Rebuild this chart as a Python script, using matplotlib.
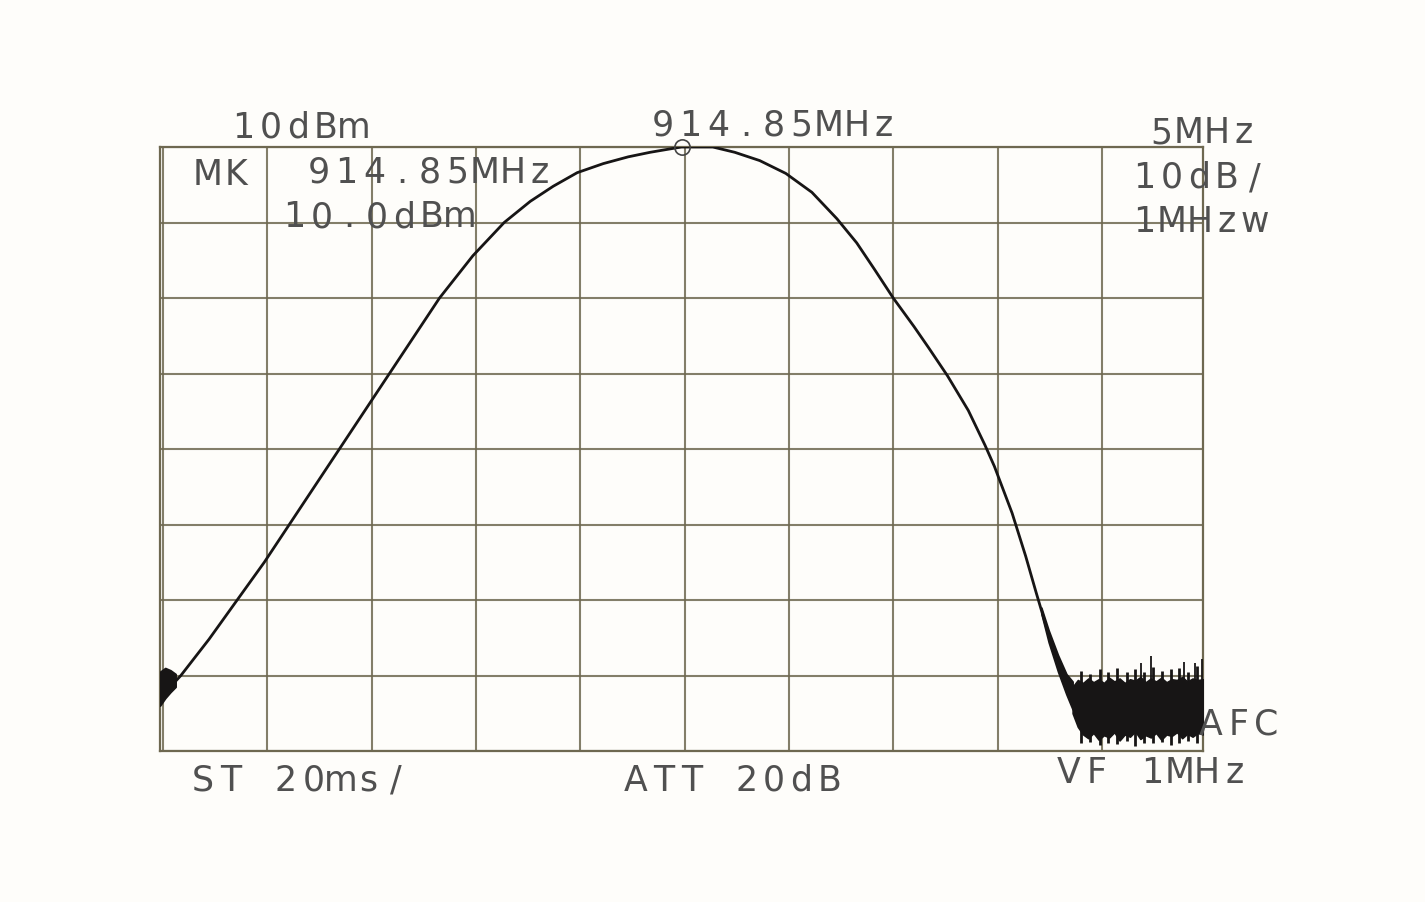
import numpy as np
import matplotlib.pyplot as plt
from matplotlib.ticker import MultipleLocator

# Spectrum analyser settings
center_mhz = 914.85
span_per_div = 5.0
ref_level = 10.0
db_per_div = 10.0

# Main trace, MHz vs dBm
trace_mhz = [889.85, 890.85, 892.2, 893.55, 894.85, 896.05, 898.45, 899.65, 900.85,
             902.05, 903.25, 904.85, 906.35, 907.6, 908.7, 909.85, 911.1,
             912.3, 913.35, 914.2, 914.85, 915.6, 916.35, 917.4, 918.6,
             919.85, 921.1, 922.3, 923.25, 924.1, 925.0, 926.0, 926.7,
             927.6, 928.6, 929.4, 929.85, 930.7, 931.35, 931.85, 932.45,
             933.15, 933.6]
trace_dbm = [-63.0, -60.0, -55.2, -50.0, -45.0, -40.0, -30.0, -25.0, -20.0,
             -15.0, -10.0, -4.4, 0.0, 2.8, 4.8, 6.6, 7.8,
             8.7, 9.3, 9.7, 10.0, 10.0, 10.0, 9.3, 8.2,
             6.5, 4.0, 0.5, -2.7, -6.2, -10.0, -13.8, -16.6,
             -20.3, -24.9, -29.5, -32.3, -38.5, -44.2, -49.0, -54.6,
             -60.0, -63.0]

# noisy blob at the left edge
blob_mhz = [889.85, 890.1, 890.35, 890.6]
blob_hi = [-59.5, -59.0, -59.3, -59.8]
blob_lo = [-64.0, -63.0, -62.2, -61.5]

# thickened falling edge just before the noise floor
edge_mhz = [932.1, 932.45, 932.9, 933.3, 933.6]
edge_hi = [-51.0, -54.0, -57.3, -59.8, -60.8]
edge_lo = [-51.8, -55.6, -59.5, -62.5, -64.5]

# noise floor band on the right
noise_mhz = [933.6, 933.85, 934.1, 934.35, 934.6, 934.85, 935.1, 935.35,
             935.6, 935.85, 936.1, 936.35, 936.6, 936.85, 937.1, 937.35,
             937.6, 937.85, 938.1, 938.35, 938.6, 938.85, 939.1, 939.35,
             939.6, 939.85]
noise_hi = [-61.5, -60.6, -61.0, -60.4, -60.9, -60.5, -61.0, -60.3,
            -60.8, -60.4, -61.0, -60.5, -60.7, -60.2, -60.9, -60.4,
            -60.8, -60.3, -60.9, -60.5, -60.6, -60.2, -60.8, -60.4,
            -60.6, -60.5]
noise_lo = [-65.0, -66.8, -67.8, -68.3, -67.6, -68.5, -67.9, -68.2,
            -67.5, -68.6, -67.8, -68.1, -67.4, -68.4, -67.9, -68.2,
            -67.6, -68.5, -67.8, -68.0, -67.5, -68.3, -67.7, -68.1,
            -67.6, -67.8]
# short teeth on top and bottom of the band
teeth_mhz = [934.0, 934.45, 934.9, 935.3, 935.75, 936.2, 936.6, 937.0,
             937.45, 937.9, 938.3, 938.7, 939.15, 939.55]
teeth_hi = [-59.4, -59.8, -59.2, -59.6, -59.0, -59.5, -59.1, -59.6,
            -58.9, -59.4, -59.2, -59.0, -59.5, -58.8]
teeth_lo = [-69.0, -68.8, -69.2, -68.9, -69.1, -68.7, -69.3, -68.9,
            -69.0, -68.8, -69.2, -68.9, -68.7, -69.0]
spike_mhz = [936.9, 937.35, 938.95, 939.45, 939.8]
spike_dbm = [-58.3, -57.4, -58.2, -58.4, -57.8]

lo_mhz = center_mhz - 5 * span_per_div
hi_mhz = center_mhz + 5 * span_per_div
bottom_dbm = ref_level - 8 * db_per_div

W, H = 1425, 903
fig = plt.figure(figsize=(W / 100, H / 100), dpi=100)
fig.patch.set_facecolor('#fefdfa')

ax = fig.add_axes([160 / W, 1 - 752 / H, 1043 / W, 604 / H])
ax.set_facecolor('#fefdfa')
ax.set_xlim(lo_mhz, hi_mhz)
ax.set_ylim(bottom_dbm, ref_level)
ax.xaxis.set_major_locator(MultipleLocator(span_per_div))
ax.yaxis.set_major_locator(MultipleLocator(db_per_div))
grid_col = '#6e6850'
ax.grid(True, color=grid_col, linewidth=1.5, alpha=0.85)
ax.tick_params(length=0, labelbottom=False, labelleft=False)
for s in ax.spines.values():
    s.set_color(grid_col)
    s.set_linewidth(1.6)

ink = '#171515'
ax.plot(trace_mhz, trace_dbm, color=ink, linewidth=2.0, zorder=3,
        solid_joinstyle='round')
ax.fill_between(blob_mhz, blob_lo, blob_hi, color=ink, linewidth=1.2, zorder=3)
ax.fill_between(edge_mhz, edge_lo, edge_hi, color=ink, linewidth=1.2, zorder=3)
ax.fill_between(noise_mhz, noise_lo, noise_hi, color=ink, linewidth=1.2, zorder=3)
ax.vlines(teeth_mhz, -61, teeth_hi, color=ink, linewidth=2.0, zorder=3)
ax.vlines(teeth_mhz, -67, teeth_lo, color=ink, linewidth=2.0, zorder=3)
ax.vlines(spike_mhz, -61, spike_dbm, color=ink, linewidth=1.3, zorder=3)

# marker circle
ax.plot([center_mhz], [ref_level], marker='o', markersize=11, markerfacecolor='none',
        markeredgecolor='#444444', markeredgewidth=1.2, clip_on=False, zorder=4)

# fixed pitch printer text
pitch = 27.6
txt_col = '#505050'


def mono(x, y, s):
    for i, ch in enumerate(s):
        if ch == ' ':
            continue
        fig.text((x + 11 + pitch * i) / W, 1 - y / H, ch, ha='center', va='center',
                 fontsize=25, color=txt_col, family='DejaVu Sans')


mono(232, 128, '10dBm')
mono(652, 126, '914.85MHz')
mono(1150, 133, '5MHz')
mono(197, 175, 'MK')
mono(308, 173, '914.85MHz')
mono(283, 217, '10.0dBm')
mono(1133, 178, '10dB/')
mono(1133, 222, '1MHzw')
mono(1200, 725, 'AFC')
mono(192, 781, 'ST 20ms/')
mono(625, 781, 'ATT 20dB')
mono(1058, 773, 'VF 1MHz')

fig.savefig('out.png', dpi=100, facecolor=fig.get_facecolor())
